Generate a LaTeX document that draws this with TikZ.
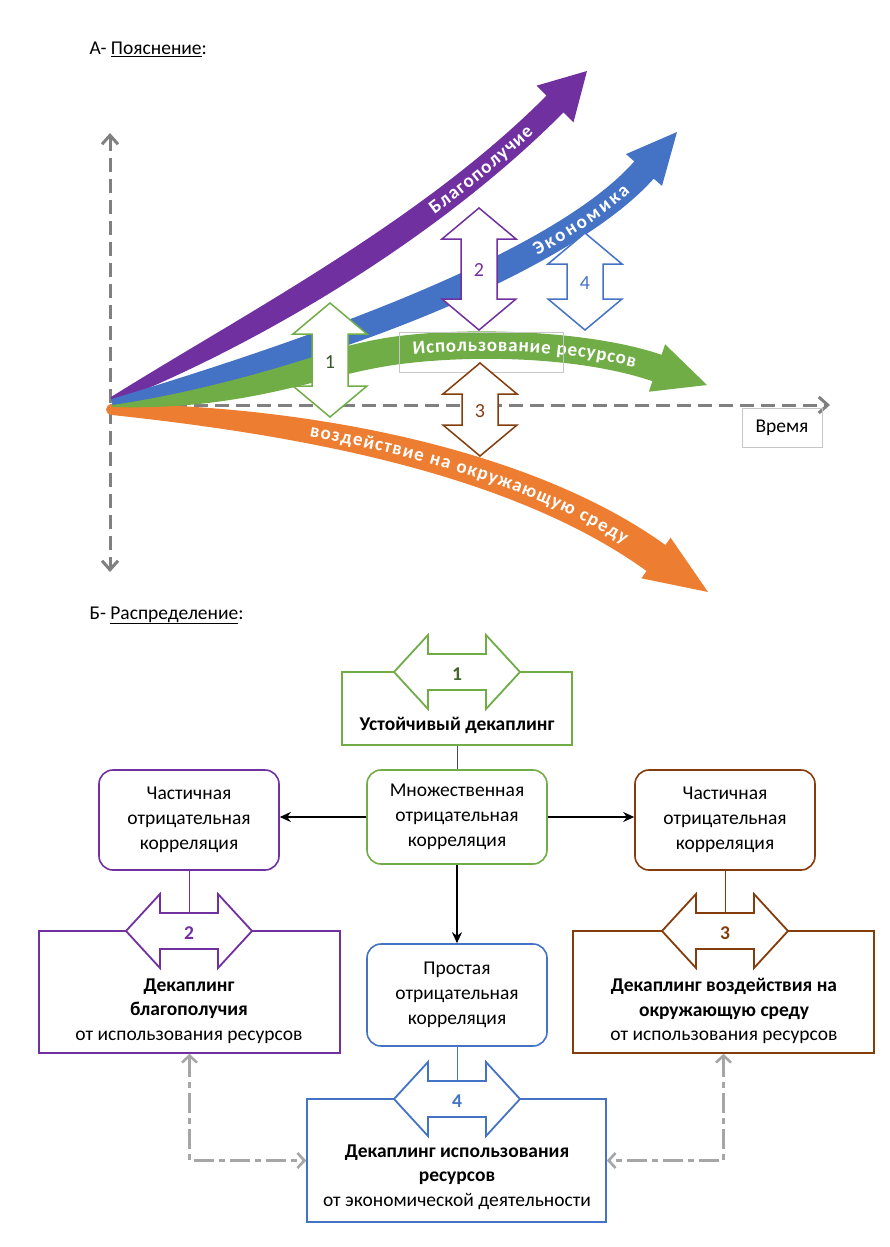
\documentclass[tikz,border=0pt]{standalone}
\usepackage{fontspec}
\setmainfont{Carlito}
\usepackage{xcolor}
\definecolor{violetDec}{HTML}{7030A0}
\definecolor{blueDec}{HTML}{4472C4}
\definecolor{greenDec}{HTML}{70AD47}
\definecolor{greenDecD}{HTML}{375623}
\definecolor{orangeDec}{HTML}{ED7D31}
\definecolor{brownDec}{HTML}{843C0C}
\definecolor{axisDec}{HTML}{808080}
\definecolor{linkDec}{HTML}{A6A6A6}
\usepackage{tikz}
\usetikzlibrary{arrows.meta,decorations.text}

\tikzset{
  eje/.style={axisDec,line width=3,dash pattern=on 14pt off 7pt},
  corrbox/.style={draw,rounded corners=14,line width=1.6,minimum width=180,
    minimum height=100,align=center,font=\fontsize{19.5}{25}\selectfont},
  decbox/.style={draw,line width=1.6,inner sep=0},
  dectxt/.style={align=center,inner sep=0,font=\fontsize{19.5}{24.5}\selectfont},
  numA/.style={font=\fontsize{20}{22}\selectfont},
  numB/.style={font=\fontsize{19.5}{22}\selectfont\bfseries},
  flecha/.style={-{Stealth[length=11pt,width=10pt]},line width=2.2},
  enlace/.style={linkDec,line width=2.6,dash pattern=on 20pt off 5pt on 6pt off 5pt,
    {Straight Barb[length=7pt,width=15pt]}-{Straight Barb[length=7pt,width=15pt]}},
  fino/.style={line width=1}
}

% flecha doble vertical: color, x, y arriba, y abajo
\newcommand\flechaV[4]{%
  \draw[#1,line width=1.5,fill=white]
    (#2,#3) -- ({#2+37},{#3+31}) -- ({#2+18},{#3+31}) -- ({#2+18},{#4-31})
    -- ({#2+37},{#4-31}) -- (#2,#4) -- ({#2-37},{#4-31}) -- ({#2-18},{#4-31})
    -- ({#2-18},{#3+31}) -- ({#2-37},{#3+31}) -- cycle;}

% flecha doble horizontal: color, x centro, y centro
\newcommand\flechaH[3]{%
  \draw[#1,line width=1.8,fill=white]
    ({#2-63},#3) -- ({#2-29},{#3-37}) -- ({#2-29},{#3-18}) -- ({#2+29},{#3-18})
    -- ({#2+29},{#3-37}) -- ({#2+63},#3) -- ({#2+29},{#3+37}) -- ({#2+29},{#3+18})
    -- ({#2-29},{#3+18}) -- ({#2-29},{#3+37}) -- cycle;}

\begin{document}
\begin{tikzpicture}[x=1pt,y=-1pt,font=\fontsize{19.5}{24}\selectfont]
\useasboundingbox (0,0) rectangle (889,1247);

% Títulos
\node[anchor=base west] (titA) at (86,55) {А- \underline{Пояснение}:};
\node[anchor=base west] (titB) at (86,619) {Б- \underline{Распределение}:};

% Ejes
\draw[eje,{Straight Barb[length=9pt,width=16pt]}-{Straight Barb[length=9pt,width=16pt]}]
    (110,133) -- (110,572);
\draw[eje,-{Straight Barb[length=9pt,width=16pt]}]
    (110,405) -- (830,405);

\node[draw=gray!45,line width=0.8,minimum width=80,minimum height=39]
    (vremya) at (782,427.5) {Время};

% Cintas
\fill[orangeDec]
    (112,404) .. controls (301.1,405) and (529.4,447) .. (665.4,545)
    -- (670.6,537.7) -- (708,592) -- (641.4,578.3) -- (646.6,571)
    .. controls (510.6,473) and (298.9,435) .. (112,415)
    .. controls (104,414) and (104,405) .. cycle;

\fill[violetDec]
    (110.6,397.3) .. controls (242.3,314.8) and (421.5,221.6) .. (546.5,95.6)
    -- (536.5,85.7) -- (587,71) -- (573.5,122.3) -- (563.5,112.4)
    .. controls (438.5,238.4) and (257.7,345.2) .. (113.4,402.7) -- cycle;

\fill[greenDec]
    (112,401) .. controls (249.4,385) and (318.3,346.1) .. (398.3,336.1)
    .. controls (478.3,326.1) and (594.6,331.8) .. (661.6,354.8)
    -- (665.1,344.3) -- (707,385) -- (648.9,391.7) -- (652.4,381.2)
    .. controls (585.4,358.2) and (481.7,353.9) .. (401.7,363.9)
    .. controls (321.7,373.9) and (250.6,411) .. (112,407) -- cycle;

\fill[blueDec]
    (111.3,399.1) .. controls (296.3,343.4) and (550.3,256.4) .. (634.3,161.4)
    -- (626,154.1) -- (677,132) -- (662,185.9) -- (653.7,178.6)
    .. controls (569.7,273.6) and (303.7,376.6) .. (112.7,404.9) -- cycle;

% Textos de las cintas
\path[decorate,decoration={text along path,text color=white,raise=-6pt,
    text={|\fontsize{19}{20}\selectfont\bfseries|Благополучие},
    text align={left indent=372pt,right indent=35pt,fit to path}}]
    (112,400) .. controls (250,330) and (430,230) .. (555,104);

\path[decorate,decoration={text along path,text color=white,raise=-6pt,
    text={|\fontsize{19}{20}\selectfont\bfseries|Экономика},
    text align={left indent=450pt,right indent=25pt,fit to path}}]
    (112,402) .. controls (300,360) and (560,265) .. (644,170);

\path[decorate,decoration={text along path,text color=white,raise=-6pt,
    text={|\fontsize{19}{20}\selectfont\bfseries|Использование ресурсов},
    text align={left indent=13pt,right indent=22pt,fit to path}}]
    (400,350) .. controls (480,340) and (590,345) .. (657,368);

\path[decorate,decoration={text along path,text color=white,raise=-6pt,
    text={|\fontsize{19}{20}\selectfont\bfseries|воздействие на окружающую среду},
    text align={left indent=200pt,right indent=35pt,fit to path}}]
    (112,406) .. controls (300,420) and (520,460) .. (656,558);

\draw[gray!45,line width=0.7] (399,332) rectangle (563,372);

% Flechas de comparación
\flechaV{greenDec}{330}{303}{417}
\flechaV{violetDec}{479}{208}{330}
\flechaV{blueDec}{585}{233}{330}
\flechaV{brownDec}{480}{363}{456}

\node[numA,text=greenDecD] (a1) at (330,362) {1};
\node[numA,text=violetDec] (a2) at (479,270) {2};
\node[numA,text=blueDec] (a4) at (585,283) {4};
\node[numA,text=brownDec] (a3) at (480,411) {3};

% Esquema de distribución
\node[decbox,draw=greenDec,minimum width=230,minimum height=73] (sust) at (457,708.5) {};
\node[decbox,draw=violetDec,minimum width=301,minimum height=122] (decWell) at (189.5,992) {};
\node[decbox,draw=brownDec,minimum width=301,minimum height=122] (decEnv) at (723.5,992) {};
\node[decbox,draw=blueDec,minimum width=299,minimum height=123] (decRes) at (456.5,1160.5) {};

\node[corrbox,draw=greenDec,minimum height=94] (mult) at (457,817)
    {Множественная\\отрицательная\\корреляция};
\node[corrbox,draw=violetDec] (partL) at (189,820)
    {Частичная\\отрицательная\\корреляция};
\node[corrbox,draw=brownDec] (partR) at (725,820)
    {Частичная\\отрицательная\\корреляция};
\node[corrbox,draw=blueDec,minimum height=102] (simple) at (457,995)
    {Простая\\отрицательная\\корреляция};

% Conexiones
\draw[fino,black!70] (sust.south) -- (mult.north);
\draw[fino,violetDec] (partL.south) -- (partL.south |- decWell.north);
\draw[fino,brownDec] (partR.south) -- (partR.south |- decEnv.north);
\draw[fino,blueDec] (simple.south) -- (simple.south |- decRes.north);

\draw[flecha] (mult.west) -- (mult.west -| partL.east);
\draw[flecha] (mult.east) -- (mult.east -| partR.west);
\draw[flecha] (mult.south) -- (simple.north);

\draw[enlace] (decWell.south) |- (decRes.west);
\draw[enlace] (decEnv.south) |- (decRes.east);

\flechaH{greenDec}{457}{672}
\flechaH{violetDec}{189}{931}
\flechaH{brownDec}{725}{931}
\flechaH{blueDec}{457}{1099}

\node[numB,text=greenDecD!80!greenDec] (b1) at (457,674) {1};
\node[numB,text=violetDec] (b2) at (189,933) {2};
\node[numB,text=brownDec] (b3) at (725,933) {3};
\node[numB,text=blueDec] (b4) at (457,1101) {4};

\node[dectxt] (sustT) at (457,725) {\textbf{Устойчивый декаплинг}};
\node[dectxt] (decWellT) at (189,1011)
    {\textbf{Декаплинг}\\\textbf{благополучия}\\от использования ресурсов};
\node[dectxt] (decEnvT) at (724,1011)
    {\textbf{Декаплинг воздействия на}\\\textbf{окружающую среду}\\от использования ресурсов};
\node[dectxt] (decResT) at (457,1177)
    {\textbf{Декаплинг использования}\\\textbf{ресурсов}\\от экономической деятельности};

\end{tikzpicture}
\end{document}
